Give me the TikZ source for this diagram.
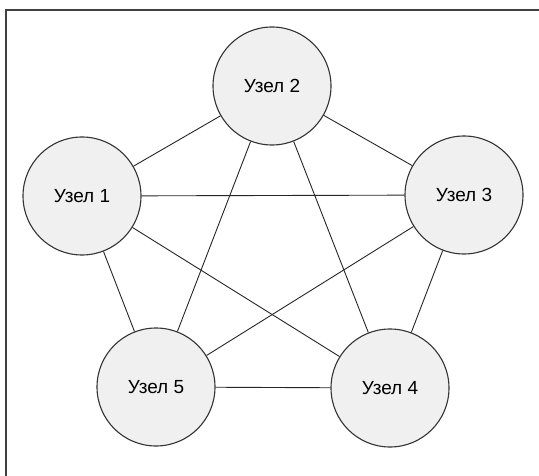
\documentclass[tikz,border=0pt]{standalone}
\usepackage{fontspec}
\setmainfont{Liberation Sans}
\begin{document}
\begin{tikzpicture}[x=1pt,y=-1pt,
  uzel/.style={circle, draw=black!80, fill=black!6, line width=1.1pt, minimum size=118pt, inner sep=0pt, font=\fontsize{19}{22}\selectfont},
  link/.style={draw=black!85, line width=0.9pt},
  frameline/.style={draw=black!75, line width=1.4pt}]
\useasboundingbox (0,0) rectangle (539,476);
\coordinate (fa) at (6,476);
\coordinate (fb) at (6,10);
\coordinate (fc) at (539,10);
\draw[frameline] (fa) -- (fb) -- (fc);
\node[uzel] (n1) at (82,196) {Узел 1};
\node[uzel] (n2) at (272,86) {Узел 2};
\node[uzel] (n3) at (464,195) {Узел 3};
\node[uzel] (n4) at (390,388) {Узел 4};
\node[uzel] (n5) at (156,387) {Узел 5};
\draw[link] (n1) -- (n2);
\draw[link] (n2) -- (n3);
\draw[link] (n1) -- (n3);
\draw[link] (n1) -- (n5);
\draw[link] (n1) -- (n4);
\draw[link] (n2) -- (n5);
\draw[link] (n2) -- (n4);
\draw[link] (n3) -- (n5);
\draw[link] (n3) -- (n4);
\draw[link] (n5) -- (n4);
\end{tikzpicture}
\end{document}
